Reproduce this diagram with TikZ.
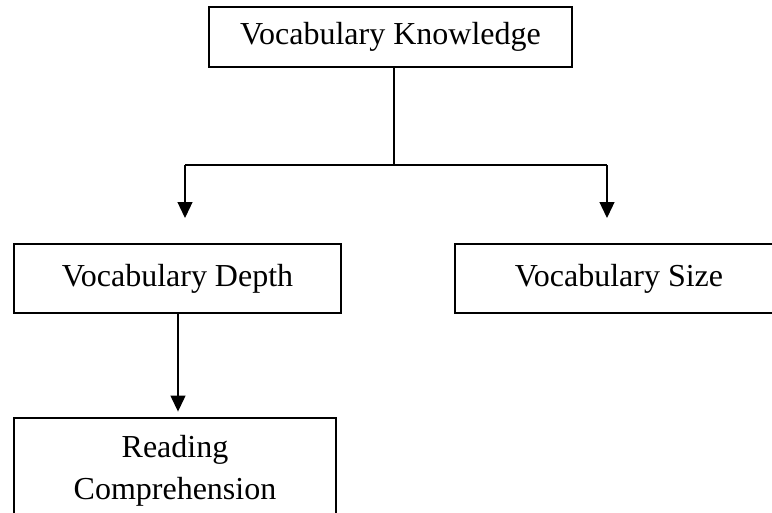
\documentclass[tikz,border=0pt]{standalone}
\usepackage{fontspec}
\setmainfont{Liberation Serif}
\usetikzlibrary{arrows.meta}
\begin{document}
\begin{tikzpicture}[x=1pt,y=-1pt,
  boxnode/.style={draw,line width=2.9pt,inner sep=0pt,align=center,
    font=\fontsize{32}{42}\selectfont},
  conn/.style={line width=1.3pt},
  arr/.style={conn,-{Triangle[width=15pt,length=16pt]}}]
\useasboundingbox (0,0) rectangle (772,512);
\clip (0,0) rectangle (772,512);
\node[boxnode,minimum width=363pt,minimum height=60pt] (top) at (390.5,37) {Vocabulary Knowledge};
\node[boxnode,minimum width=327pt,minimum height=69pt] (depth) at (177.5,278.5) {Vocabulary Depth};
\node[boxnode,minimum width=328pt,minimum height=69pt] (size) at (619,278.5) {Vocabulary Size};
\node[boxnode,minimum width=322pt,minimum height=106pt] (read) at (175,471) {Reading\\Comprehension};
\coordinate (j) at (394,165);
\coordinate (jl) at (185,165);
\coordinate (jr) at (607,165);
\coordinate (tl) at (185,218);
\coordinate (tr) at (607,218);
\draw[conn] (top.south -| j) -- (j);
\draw[conn] (jl) -- (jr);
\draw[arr] (jl) -- (tl);
\draw[arr] (jr) -- (tr);
\draw[arr,shorten >=5pt] (depth.south -| 178,0) -- (read.north -| 178,0);
\end{tikzpicture}
\end{document}
